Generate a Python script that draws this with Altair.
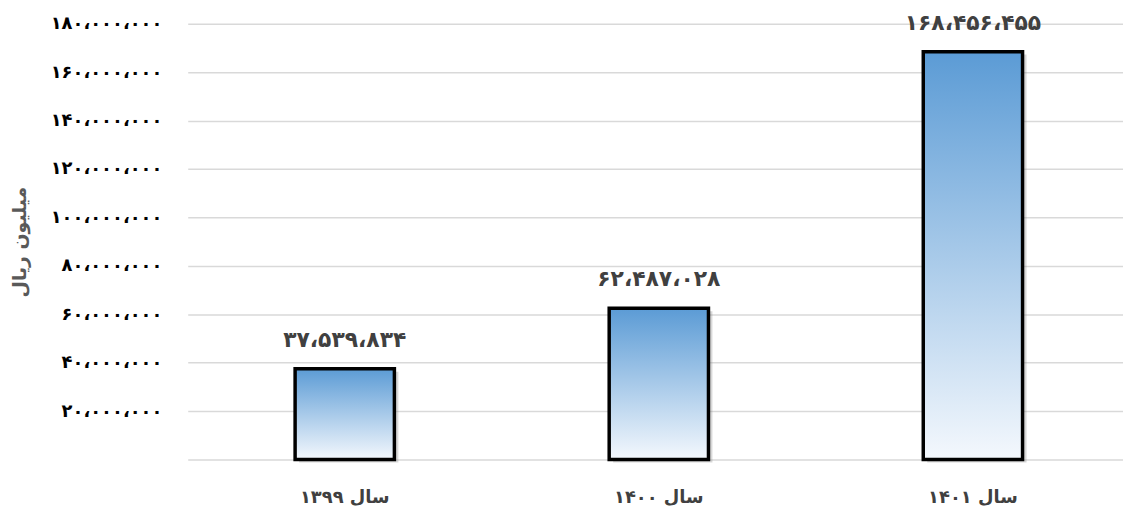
import altair as alt
import pandas as pd

years = ["سال ۱۳۹۹", "سال ۱۴۰۰", "سال ۱۴۰۱"]
values = [37539834, 62487028, 168456455]

PERSIAN = "۰۱۲۳۴۵۶۷۸۹"


def fa_num(n):
    s = f"{n:,}".replace(",", "،")
    return "".join(PERSIAN[int(c)] if c.isdigit() else c for c in s)


df = pd.DataFrame({
    "year": years,
    "value": values,
    "label": [fa_num(v) for v in values],
})

# y labels: convert digits to Persian, commas to Arabic comma, hide zero
expr = "format(datum.value, ',d')"
expr = f"replace({expr}, regexp(',', 'g'), '،')"
for i, ch in enumerate(PERSIAN):
    expr = f"replace({expr}, regexp('{i}', 'g'), '{ch}')"
label_expr = f"datum.value == 0 ? '' : {expr}"

FONT = "DejaVu Sans"

x = alt.X(
    "year:N",
    sort=years,
    scale=alt.Scale(paddingInner=0, paddingOuter=0, range=[0, 949]),
    axis=alt.Axis(
        title=None, labelAngle=0, domain=False, ticks=False,
        labelFont=FONT, labelFontSize=18, labelFontWeight="bold",
        labelColor="#404040", labelPadding=29,
    ),
)
y = alt.Y(
    "value:Q",
    scale=alt.Scale(domain=[0, 180000000], nice=False),
    axis=alt.Axis(
        title="میلیون ریال", titleFont=FONT, titleFontSize=19,
        titleFontWeight="bold", titleColor="#595959", titlePadding=20,
        titleX=-159,
        values=list(range(0, 180000001, 20000000)),
        labelExpr=label_expr, labelFont=FONT, labelFontSize=18,
        labelFontWeight="bold", labelColor="#000000", labelPadding=26,
        domain=False, ticks=False, grid=True, gridColor="#d9d9d9",
        gridWidth=1.5,
    ),
)

base = alt.Chart(df)

shadow = base.mark_bar(
    size=100, color="#7f7f7f", opacity=0.3, xOffset=4, yOffset=3
).encode(x=x, y=y)

bars = base.mark_bar(
    size=100,
    color=alt.Gradient(
        gradient="linear",
        stops=[
            alt.GradientStop(color="#5b9bd5", offset=0),
            alt.GradientStop(color="#f4f8fd", offset=1),
        ],
        x1=0, x2=0, y1=0, y2=1,
    ),
    stroke="#000000",
    strokeWidth=3.5,
).encode(x=x, y=y)

labels = base.mark_text(
    font=FONT, fontSize=22, fontWeight="bold", color="#404040",
    baseline="bottom", dy=-17,
).encode(x=x, y=y, text="label:N")

chart = (shadow + bars + labels).properties(
    width=942,
    height=439,
    autosize=alt.AutoSizeParams(type="none"),
    padding={"left": 181, "top": 14, "right": 0, "bottom": 50},
).configure_view(stroke=None)

chart.save("out.html", embed_options={"renderer": "svg", "actions": False})
